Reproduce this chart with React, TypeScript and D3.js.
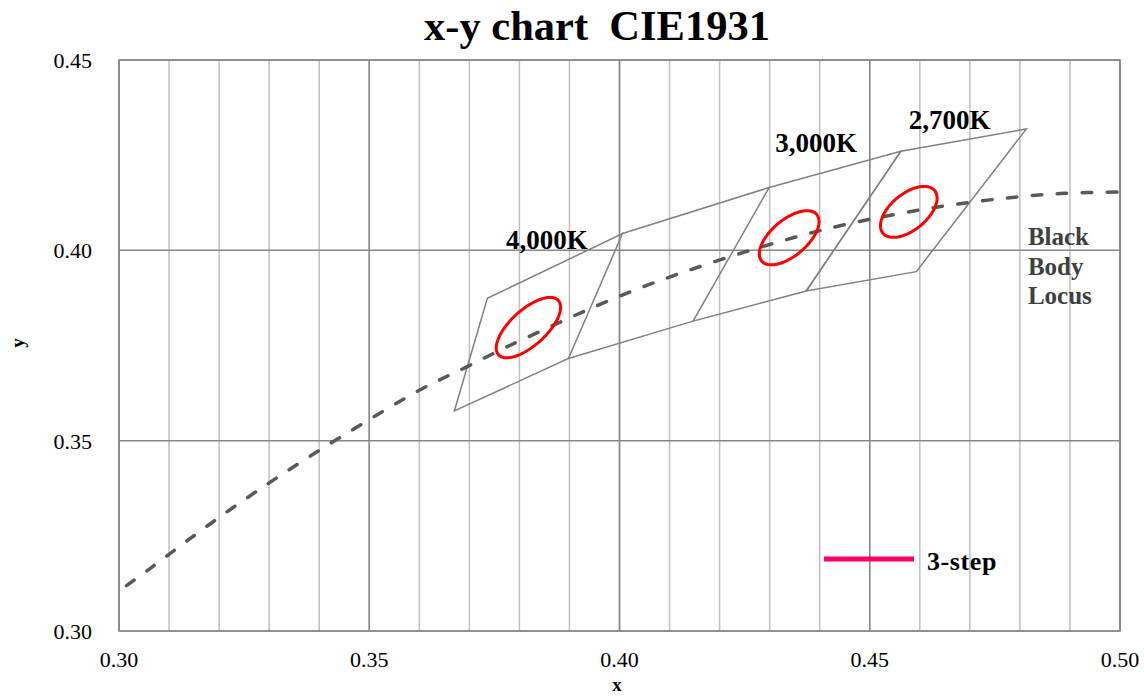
import * as d3 from "d3";

// axis ticks
const xTicks = [0.3, 0.35, 0.4, 0.45, 0.5];
const yTicks = [0.3, 0.35, 0.4, 0.45];

// ANSI quadrangles: top-left, top-right, bottom-right, bottom-left
const quad4000K: [number, number][] = [
  [0.3736, 0.3874],
  [0.4006, 0.4044],
  [0.3898, 0.3716],
  [0.367, 0.3578],
];
const quad3000K: [number, number][] = [
  [0.4299, 0.4165],
  [0.4562, 0.426],
  [0.4373, 0.3893],
  [0.4147, 0.3814],
];
const quad2700K: [number, number][] = [
  [0.4562, 0.426],
  [0.4813, 0.4319],
  [0.4593, 0.3944],
  [0.4373, 0.3893],
];

// black body locus
const locusX = [0.3015, 0.3064, 0.3135, 0.3221, 0.3324, 0.3451, 0.3601, 0.3695, 0.3805, 0.4053, 0.4369, 0.4599, 0.477, 0.489, 0.5];
const locusY = [0.3119, 0.3166, 0.3236, 0.3318, 0.341, 0.3516, 0.3633, 0.3694, 0.3765, 0.3907, 0.4041, 0.4106, 0.4137, 0.415, 0.4153];

// 3-step MacAdam ellipses
const ellipseCx = [0.3818, 0.4339, 0.4578];
const ellipseCy = [0.3797, 0.4033, 0.4101];
const ellipseA = [0.00939, 0.00834, 0.00774];
const ellipseB = [0.00402, 0.00408, 0.00411];
const ellipseTheta = [53.72, 53.22, 53.7];

// CCT labels (left x, baseline y in data units)
const cctLabels = ["4,000K", "3,000K", "2,700K"];
const cctLabelX = [0.3773, 0.4311, 0.4578];
const cctLabelY = [0.4004, 0.4258, 0.4319];

const W = 1144;
const H = 697;
const margin = { top: 60, right: 24, bottom: 66, left: 119 };
const FONT = "'Liberation Serif', 'Times New Roman', serif";

export default function App() {
  const x = d3.scaleLinear().domain([0.3, 0.5]).range([margin.left, W - margin.right]);
  const y = d3.scaleLinear().domain([0.3, 0.45]).range([H - margin.bottom, margin.top]);

  const minorX = x.ticks(20);
  const line = d3
    .line<[number, number]>()
    .x((d) => x(d[0]))
    .y((d) => y(d[1]));
  const closed = d3
    .line<[number, number]>()
    .x((d) => x(d[0]))
    .y((d) => y(d[1]))
    .curve(d3.curveLinearClosed);

  const locusPts = locusX.map((v, i) => [v, locusY[i]] as [number, number]);
  const locusPath = d3
    .line<[number, number]>()
    .x((d) => x(d[0]))
    .y((d) => y(d[1]))
    .curve(d3.curveCatmullRom.alpha(0.5))(locusPts);

  const ellipsePaths = ellipseCx.map((cx, i) => {
    const th = (ellipseTheta[i] * Math.PI) / 180;
    const pts: [number, number][] = d3.range(0, 360, 4).map((deg) => {
      const t = (deg * Math.PI) / 180;
      const ca = ellipseA[i] * Math.cos(t);
      const sb = ellipseB[i] * Math.sin(t);
      return [cx + ca * Math.cos(th) - sb * Math.sin(th), ellipseCy[i] + ca * Math.sin(th) + sb * Math.cos(th)];
    });
    return closed(pts);
  });

  const quads = [quad4000K, quad3000K, quad2700K];
  const connectors: [number, number][][] = [
    [quad4000K[1], quad3000K[0]],
    [quad4000K[2], quad3000K[3]],
  ];

  const x0 = margin.left;
  const x1 = W - margin.right;
  const y0 = H - margin.bottom;
  const y1 = margin.top;

  return (
    <svg width={W} height={H} style={{ position: "absolute", left: 0, top: 0, background: "#fff" }} fontFamily={FONT}>
      {/* minor vertical grid */}
      {minorX.map((v) => (
        <line key={"mx" + v} x1={x(v)} x2={x(v)} y1={y0} y2={y1} stroke="#c0c0c0" strokeWidth={1.5} />
      ))}
      {/* major grid */}
      {xTicks.map((v) => (
        <line key={"Mx" + v} x1={x(v)} x2={x(v)} y1={y0} y2={y1} stroke="#888" strokeWidth={1.5} />
      ))}
      {yTicks.map((v) => (
        <line key={"My" + v} x1={x0} x2={x1} y1={y(v)} y2={y(v)} stroke="#888" strokeWidth={1.5} />
      ))}
      <rect x={x0} y={y1} width={x1 - x0} height={y0 - y1} fill="none" stroke="#888" strokeWidth={1.5} />

      {/* quadrangles */}
      {quads.map((q, i) => (
        <path key={"q" + i} d={closed(q) || ""} fill="none" stroke="#808080" strokeWidth={1.5} strokeLinejoin="miter" />
      ))}
      {connectors.map((c, i) => (
        <path key={"c" + i} d={line(c) || ""} fill="none" stroke="#808080" strokeWidth={1.5} />
      ))}

      {/* black body locus */}
      <path d={locusPath || ""} fill="none" stroke="#595959" strokeWidth={3.5} strokeDasharray="9.5 15.5" strokeLinecap="round" />

      {/* ellipses */}
      {ellipsePaths.map((p, i) => (
        <path key={"e" + i} d={p || ""} fill="none" stroke="#ff0000" strokeWidth={3} />
      ))}

      {/* CCT labels */}
      {cctLabels.map((t, i) => (
        <text key={t} x={x(cctLabelX[i])} y={y(cctLabelY[i])} fontSize={27} fontWeight="bold" fill="#000">
          {t}
        </text>
      ))}

      <text x={x(0.4816)} y={y(0.4014)} fontSize={25} fontWeight="bold" fill="#404040">
        <tspan x={x(0.4816)}>Black</tspan>
        <tspan x={x(0.4816)} dy={29.5}>Body</tspan>
        <tspan x={x(0.4816)} dy={29.5}>Locus</tspan>
      </text>

      {/* legend */}
      <line x1={824} x2={914} y1={559} y2={559} stroke="#ff0066" strokeWidth={5} />
      <text x={927} y={570} fontSize={26} fontWeight="bold" fill="#000" letterSpacing={0.6}>
        3-step
      </text>

      {/* tick labels */}
      {yTicks.map((v) => (
        <text key={"yt" + v} x={92} y={y(v) + 8} textAnchor="end" fontSize={22} fill="#000">
          {v.toFixed(2)}
        </text>
      ))}
      {xTicks.map((v) => (
        <text key={"xt" + v} x={x(v)} y={y0 + 36} textAnchor="middle" fontSize={22} fill="#000">
          {v.toFixed(2)}
        </text>
      ))}

      {/* titles */}
      <text x={597} y={40} textAnchor="middle" fontSize={42.5} fontWeight="bold" fill="#000">
        x-y chart{"\u00a0\u00a0"}CIE1931
      </text>
      <text x={617} y={691} textAnchor="middle" fontSize={19} fontWeight="bold" fill="#000">
        x
      </text>
      <text transform={`translate(24,343) rotate(-90)`} textAnchor="middle" fontSize={19} fontWeight="bold" fill="#000">
        y
      </text>
    </svg>
  );
}
